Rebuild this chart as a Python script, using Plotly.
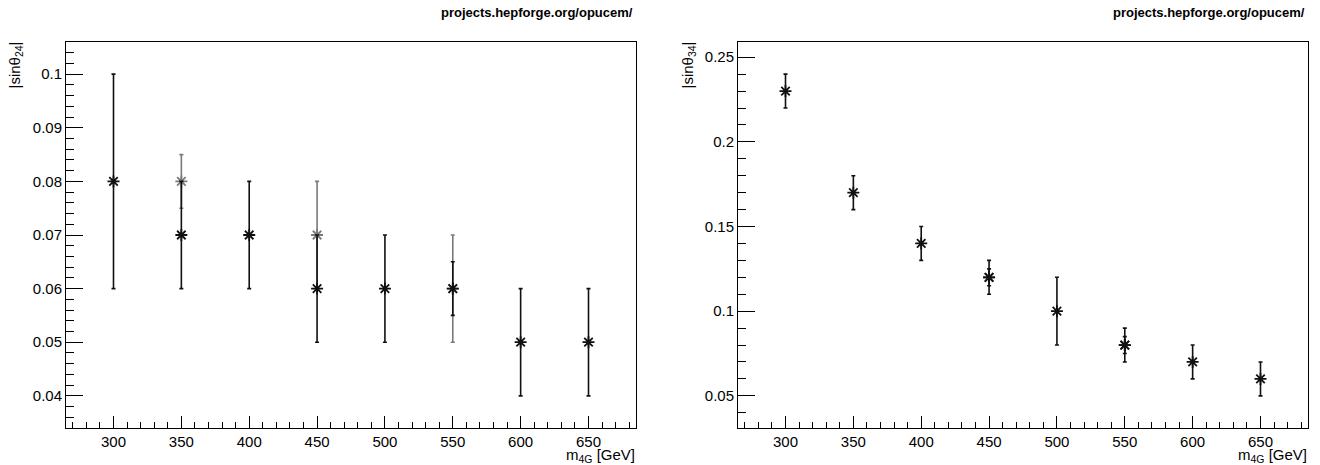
import plotly.graph_objects as go

# ---- data ----
m4g = [300, 350, 400, 450, 500, 550, 600, 650]

# left panel |sin theta_24|
s24_main = [0.08, 0.07, 0.07, 0.06, 0.06, 0.06, 0.05, 0.05]
s24_main_err = [0.02, 0.01, 0.01, 0.01, 0.01, 0.005, 0.01, 0.01]
m4g_s24_alt = [350, 450, 550]
s24_alt = [0.08, 0.07, 0.06]
s24_alt_err = [0.005, 0.01, 0.01]

# right panel |sin theta_34|
s34_main = [0.23, 0.17, 0.14, 0.12, 0.10, 0.08, 0.07, 0.06]
s34_main_err = [0.01, 0.01, 0.01, 0.01, 0.02, 0.01, 0.01, 0.01]
m4g_s34_alt = [450, 550]
s34_alt = [0.12, 0.08]
s34_alt_err = [0.005, 0.005]

W, H = 1320, 465
FONT = "Liberation Sans, Arial, Helvetica, sans-serif"
FS = 15

def pts(x, y, err, color, xa, ya):
    return go.Scatter(
        x=x, y=y, mode="markers", xaxis=xa, yaxis=ya, showlegend=False,
        marker=dict(symbol="asterisk-open", size=10, color=color,
                    line=dict(color=color, width=1.8)),
        error_y=dict(type="data", array=err, visible=True, color=color,
                     thickness=1.6, width=2),
    )

fig = go.Figure()
fig.add_trace(pts(m4g_s24_alt, s24_alt, s24_alt_err, "#7a7a7a", "x", "y"))
fig.add_trace(pts(m4g, s24_main, s24_main_err, "#111111", "x", "y"))
fig.add_trace(pts(m4g, s34_main, s34_main_err, "#111111", "x2", "y2"))
fig.add_trace(pts(m4g_s34_alt, s34_alt, s34_alt_err, "#111111", "x2", "y2"))

px = lambda v: v / W
py = lambda v: 1 - v / H
yd = [py(428), py(42)]

xcommon = dict(range=[265, 685], dtick=50, tick0=0, ticks="inside", ticklen=12,
               tickwidth=1, tickcolor="black", showgrid=False, zeroline=False,
               showline=True, mirror=True, linecolor="black", linewidth=1,
               tickfont=dict(family=FONT, size=FS, color="black"),
               minor=dict(dtick=10, tick0=0, ticks="inside", ticklen=6,
                          tickcolor="black", tickwidth=1, showgrid=False))
ycommon = dict(ticks="inside", ticklen=17, tickwidth=1, tickcolor="black",
               showgrid=False, zeroline=False, showline=True, mirror=True,
               linecolor="black", linewidth=1,
               tickfont=dict(family=FONT, size=FS, color="black"))

fig.update_layout(
    width=W, height=H, margin=dict(l=0, r=0, t=0, b=0),
    paper_bgcolor="white", plot_bgcolor="white",
    xaxis=dict(domain=[px(66), px(636)], anchor="y", **xcommon),
    yaxis=dict(domain=yd, anchor="x", range=[0.034, 0.106], dtick=0.01, tick0=0,
               minor=dict(dtick=0.002, tick0=0, ticks="inside", ticklen=8,
                          tickcolor="black", tickwidth=1, showgrid=False),
               **ycommon),
    xaxis2=dict(domain=[px(738), px(1308)], anchor="y2", **xcommon),
    yaxis2=dict(domain=yd, anchor="x2", range=[0.031, 0.259], dtick=0.05, tick0=0,
                minor=dict(dtick=0.01, tick0=0, ticks="inside", ticklen=8,
                           tickcolor="black", tickwidth=1, showgrid=False),
                **ycommon),
)

ann = []
for xr in (636, 1308):
    ann.append(dict(text="<b>projects.hepforge.org/opucem/</b>", x=px(xr - 1), y=py(13),
                    xref="paper", yref="paper", xanchor="right", yanchor="middle",
                    showarrow=False, font=dict(family=FONT, size=13, color="black")))
    ann.append(dict(text="m<sub>4G</sub> [GeV]", x=px(xr + 1), y=py(455),
                    xref="paper", yref="paper", xanchor="right", yanchor="middle",
                    showarrow=False, font=dict(family=FONT, size=FS, color="black")))
ann.append(dict(text="|sinθ<sub>24</sub>|", x=px(15), y=py(40), textangle=-90,
                xref="paper", yref="paper", xanchor="center", yanchor="top",
                showarrow=False, font=dict(family=FONT, size=FS, color="black")))
ann.append(dict(text="|sinθ<sub>34</sub>|", x=px(688), y=py(40), textangle=-90,
                xref="paper", yref="paper", xanchor="center", yanchor="top",
                showarrow=False, font=dict(family=FONT, size=FS, color="black")))
fig.update_layout(annotations=ann)

fig.write_html("out.html",
               config={"displayModeBar": False},
               post_script="document.body.style.margin='0';"
                           "document.body.style.overflow='hidden';")
